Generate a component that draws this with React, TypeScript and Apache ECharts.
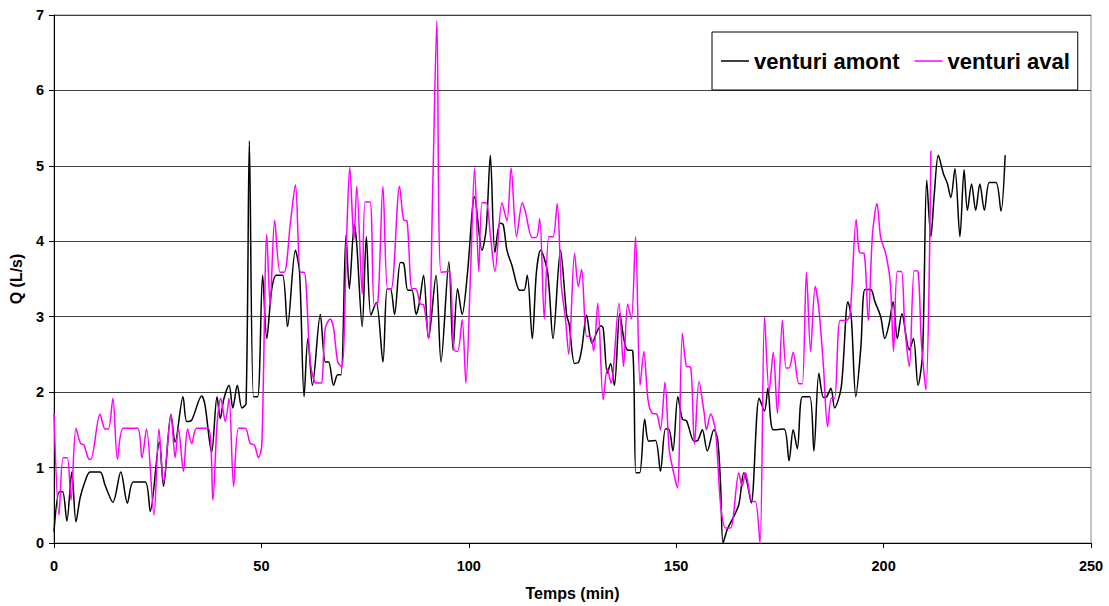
import React, { useEffect, useRef } from "react";
import * as echarts from "echarts";

const FONT = '"Liberation Sans", Arial, sans-serif';

const xAxisRange = [0, 250];
const xStep = 50;
const yAxisRange = [0, 7];
const yStep = 1;
const xTitle = "Temps (min)";
const yTitle = "Q (L/s)";
const seriesNames = ["venturi amont", "venturi aval"];
const seriesColors = ["#000000", "#FF00FF"];

// venturi amont: [time (min), Q (L/s)]
const amont: [number, number][] = [
  [0, 0.15], [1.3, 0.68], [2.1, 0.68], [3.1, 0.29], [4.3, 0.94], [5.3, 0.28], [6.3, 0.6],
  [7.5, 0.82], [8.7, 0.94], [11.1, 0.94], [12.3, 0.77], [14.2, 0.54], [16.1, 0.94], [17.7, 0.53],
  [19.1, 0.81], [22.0, 0.81], [23.2, 0.42], [25.4, 1.34], [26.4, 0.75], [28.2, 1.7], [29.2, 1.34],
  [31.1, 1.94], [32.0, 1.61], [33.2, 1.63], [35.6, 1.95], [36.4, 1.83], [38.0, 1.2], [39.3, 1.94],
  [40.1, 1.65], [40.9, 1.9], [42.2, 2.09], [43.1, 1.79], [44.2, 2.09], [45.3, 1.79], [46.3, 1.85],
  [47.1, 5.33], [48.1, 1.94], [49.1, 1.94], [50.3, 3.55], [51.3, 2.71], [52.5, 3.37], [53.6, 3.55],
  [55.1, 3.55], [56.3, 2.87], [58.2, 3.88], [59.2, 3.59], [60.3, 1.94], [61.2, 2.71], [62.3, 2.09],
  [64.2, 3.03], [65.4, 2.4], [66.2, 2.4], [67.4, 2.09], [68.4, 2.23], [69.2, 2.23], [70.4, 4.08],
  [71.2, 3.37], [72.4, 4.23], [73.0, 3.95], [74.3, 2.87], [75.3, 4.06], [76.4, 3.02], [77.7, 3.19],
  [79.3, 2.4], [80.3, 3.37], [81.1, 3.37], [82.1, 3.03], [83.5, 3.72], [84.3, 3.71], [85.3, 3.35],
  [86.3, 3.35], [87.3, 3.03], [88.0, 3.16], [89.1, 3.55], [90.3, 2.71], [92.1, 3.55], [93.3, 2.4],
  [95.2, 3.73], [96.2, 2.56], [97.3, 3.37], [98.4, 3.03], [99.7, 3.59], [101.4, 4.59], [103.2, 3.88],
  [104.2, 4.17], [105.2, 5.14], [106.3, 3.85], [107.5, 4.24], [108.3, 4.22], [109.2, 3.88],
  [110.4, 3.68], [112.3, 3.35], [113.3, 3.35], [114.1, 3.55], [115.3, 2.71], [116.3, 3.59],
  [117.3, 3.88], [119.0, 3.59], [120.3, 2.71], [122.1, 3.88], [123.6, 3.02], [124.2, 2.9],
  [125.5, 2.38], [126.5, 2.4], [127.3, 2.6], [128.4, 3.02], [129.7, 2.65], [131.8, 2.88],
  [132.4, 2.85], [133.4, 2.25], [134.2, 2.38], [135.1, 2.09], [136.4, 3.04], [137.4, 2.7],
  [138.2, 2.56], [139.5, 2.55], [140.3, 0.93], [141.2, 0.93], [142.4, 1.64], [143.4, 1.35],
  [145.0, 1.36], [146.2, 0.95], [147.4, 1.51], [148.2, 1.51], [149.2, 1.22], [150.4, 1.94],
  [151.5, 1.64], [152.5, 1.62], [154.3, 1.35], [155.2, 1.36], [156.3, 1.5], [157.5, 1.22],
  [159.1, 1.5], [160.0, 1.37], [160.7, 0.77], [161.3, 0.0], [162.3, 0.18], [163.5, 0.31],
  [165.1, 0.51], [166.3, 0.93], [167.1, 0.8], [168.1, 0.53], [170.0, 1.92], [171.3, 1.75],
  [172.1, 2.05], [173.4, 1.5], [176.0, 1.51], [177.2, 1.09], [178.2, 1.5], [179.2, 1.25],
  [180.4, 1.94], [182.2, 1.94], [183.2, 1.22], [184.4, 2.25], [185.5, 1.93], [186.3, 1.94],
  [187.3, 2.05], [188.2, 1.79], [189.8, 2.07], [191.4, 3.2], [192.2, 3.0], [193.3, 1.94],
  [194.5, 2.58], [195.5, 3.36], [196.9, 3.36], [197.9, 3.2], [199.3, 3.0], [200.3, 2.71],
  [201.3, 2.9], [202.3, 3.2], [203.3, 2.71], [204.4, 3.04], [206.2, 2.56], [207.2, 2.71],
  [208.3, 2.09], [209.4, 2.52], [210.4, 4.81], [211.4, 4.06], [212.2, 4.61], [213.2, 5.14],
  [214.4, 4.9], [215.4, 4.76], [216.2, 4.58], [217.2, 4.96], [218.4, 4.06], [219.4, 4.95],
  [220.2, 4.41], [221.2, 4.76], [222.2, 4.41], [223.2, 4.76], [224.3, 4.41], [225.5, 4.78],
  [227.1, 4.78], [228.3, 4.4], [229.3, 5.14],
];

// venturi aval: [time (min), Q (L/s)]
const aval: [number, number][] = [
  [0, 1.72], [1.2, 0.37], [2.2, 1.13], [3.2, 1.13], [4.1, 0.57], [5.3, 1.52], [6.4, 1.32],
  [7.2, 1.3], [8.5, 1.11], [8.9, 1.11], [11.1, 1.71], [12.3, 1.51], [13.1, 1.51], [14.2, 1.92],
  [15.3, 1.11], [16.7, 1.52], [20.1, 1.52], [21.2, 1.13], [22.3, 1.51], [24.1, 0.37], [25.3, 1.51],
  [26.4, 0.8], [28.2, 1.71], [29.2, 1.13], [30.0, 1.52], [31.2, 0.95], [32.2, 1.51], [33.2, 1.32],
  [34.4, 1.52], [37.2, 1.52], [38.3, 0.57], [39.3, 1.57], [40.2, 1.92], [41.3, 1.61], [42.2, 1.92],
  [43.3, 0.75], [44.5, 1.52], [46.1, 1.52], [47.3, 1.32], [48.3, 1.3], [49.3, 1.13], [50.1, 1.3],
  [51.3, 4.09], [52.1, 3.15], [53.2, 4.28], [54.5, 3.59], [55.5, 3.59], [57.0, 4.25], [58.2, 4.75],
  [59.4, 3.59], [60.3, 3.59], [61.8, 2.4], [63.2, 2.12], [64.4, 2.12], [65.4, 2.85], [66.6, 2.97],
  [67.4, 2.85], [68.4, 2.4], [69.4, 2.33], [70.6, 4.15], [71.3, 4.98], [72.3, 4.02], [73.0, 4.73],
  [74.3, 3.3], [75.0, 4.52], [76.2, 4.52], [77.2, 3.15], [78.1, 3.2], [79.3, 4.73], [80.4, 3.37],
  [81.3, 3.37], [83.3, 4.73], [84.3, 4.28], [85.1, 4.27], [86.3, 3.37], [87.2, 3.37], [88.3, 3.17],
  [89.1, 3.16], [90.3, 2.71], [91.3, 4.69], [92.3, 6.92], [93.3, 3.59], [95.2, 3.6], [96.4, 2.56],
  [97.3, 2.54], [98.4, 2.96], [99.3, 2.12], [100.4, 3.55], [101.4, 4.97], [102.4, 3.6],
  [103.2, 4.51], [104.2, 4.51], [105.2, 4.08], [106.3, 3.6], [108.0, 4.51], [109.2, 4.27],
  [110.2, 4.97], [111.5, 4.06], [112.9, 4.51], [113.6, 4.4], [115.3, 4.05], [116.3, 4.05],
  [117.1, 4.3], [118.2, 2.97], [119.3, 4.06], [120.3, 4.06], [121.3, 4.5], [122.3, 3.42],
  [123.3, 2.97], [124.1, 2.5], [125.5, 3.84], [126.4, 3.4], [127.2, 3.63], [128.4, 2.74],
  [129.3, 2.74], [130.1, 2.55], [131.1, 3.18], [132.4, 1.9], [133.4, 2.31], [134.3, 2.12],
  [136.2, 3.18], [137.3, 2.34], [138.3, 3.17], [139.2, 2.97], [140.2, 4.06], [141.3, 2.09],
  [142.2, 2.54], [143.2, 1.9], [144.2, 1.72], [145.3, 1.71], [146.2, 1.5], [147.3, 2.13],
  [148.3, 1.25], [149.3, 0.95], [150.3, 0.73], [151.5, 2.78], [152.5, 2.34], [153.5, 2.33],
  [154.4, 1.31], [155.5, 2.14], [156.7, 1.74], [157.3, 1.5], [158.3, 1.71], [159.5, 1.48],
  [160.7, 0.51], [161.9, 0.2], [163.1, 0.2], [165.1, 0.93], [165.9, 0.75], [166.7, 0.93],
  [168.3, 0.55], [169.1, 0.55], [170.2, 0.0], [171.3, 3.0], [172.4, 2.0], [173.4, 2.53],
  [174.4, 1.72], [175.6, 2.95], [176.5, 2.32], [177.2, 2.32], [178.2, 2.53], [179.6, 2.11],
  [180.4, 2.11], [181.4, 3.59], [182.4, 2.54], [183.5, 3.4], [184.4, 3.1], [185.5, 2.34],
  [186.5, 1.54], [187.4, 1.92], [188.2, 1.92], [189.5, 2.95], [190.9, 2.95], [191.9, 3.02],
  [193.4, 4.29], [194.2, 3.85], [195.3, 3.84], [196.3, 2.95], [197.3, 4.08], [198.4, 4.5],
  [199.3, 4.05], [200.5, 3.84], [201.6, 3.46], [202.4, 2.54], [203.3, 3.6], [204.3, 3.6],
  [205.1, 2.88], [206.2, 2.34], [207.4, 3.61], [208.3, 3.6], [209.1, 2.67], [210.2, 2.03],
  [211.4, 5.2],
];

const seriesData = [amont, aval];

export default function App() {
  const ref = useRef<HTMLDivElement>(null);

  useEffect(() => {
    if (!ref.current) return;
    const chart = echarts.init(ref.current, undefined, { renderer: "svg" });
    const tickStyle = { color: "#000", fontFamily: FONT, fontWeight: "bold" as const, fontSize: 14.5 };
    const titleStyle = { color: "#000", fontFamily: FONT, fontWeight: "bold" as const, fontSize: 16 };
    chart.setOption({
      animation: false,
      backgroundColor: "#ffffff",
      grid: {
        left: 54,
        right: 18,
        top: 15,
        bottom: 61,
        show: true,
        borderColor: "#888888",
        borderWidth: 1,
        backgroundColor: "transparent",
      },
      legend: {
        left: 712,
        top: 32,
        orient: "horizontal",
        padding: [18, 8, 18, 9],
        itemGap: 15,
        itemWidth: 28,
        itemHeight: 1.5,
        icon: "rect",
        backgroundColor: "#ffffff",
        borderColor: "#000000",
        borderWidth: 1,
        borderRadius: 0,
        textStyle: { color: "#000", fontFamily: FONT, fontWeight: "bold", fontSize: 22 },
        data: seriesNames,
      },
      xAxis: {
        type: "value",
        min: xAxisRange[0],
        max: xAxisRange[1],
        interval: xStep,
        name: xTitle,
        nameLocation: "middle",
        nameGap: 42,
        nameTextStyle: { ...titleStyle },
        axisLine: { show: true, onZero: false, lineStyle: { color: "#000", width: 1 } },
        axisTick: { show: true, length: 5, lineStyle: { color: "#000" } },
        axisLabel: { ...tickStyle, margin: 15 },
        splitLine: { show: false },
      },
      yAxis: {
        type: "value",
        min: yAxisRange[0],
        max: yAxisRange[1],
        interval: yStep,
        name: yTitle,
        nameLocation: "middle",
        nameRotate: 90,
        nameGap: 30,
        nameTextStyle: { ...titleStyle },
        axisLine: { show: true, lineStyle: { color: "#000", width: 1 } },
        axisTick: { show: true, length: 5, lineStyle: { color: "#000" } },
        axisLabel: { ...tickStyle, margin: 10 },
        splitLine: { show: true, lineStyle: { color: "#404040", width: 1 } },
      },
      series: seriesNames.map((name, i) => ({
        name,
        type: "line",
        data: seriesData[i],
        smooth: 0.3,
        symbol: "none",
        showSymbol: false,
        lineStyle: { color: seriesColors[i], width: 1.5 },
        itemStyle: { color: seriesColors[i] },
        clip: true,
      })),
    });
    return () => chart.dispose();
  }, []);

  return (
    <div
      ref={ref}
      style={{ position: "fixed", left: 0, top: 0, width: 1109, height: 606, background: "#fff" }}
    />
  );
}
